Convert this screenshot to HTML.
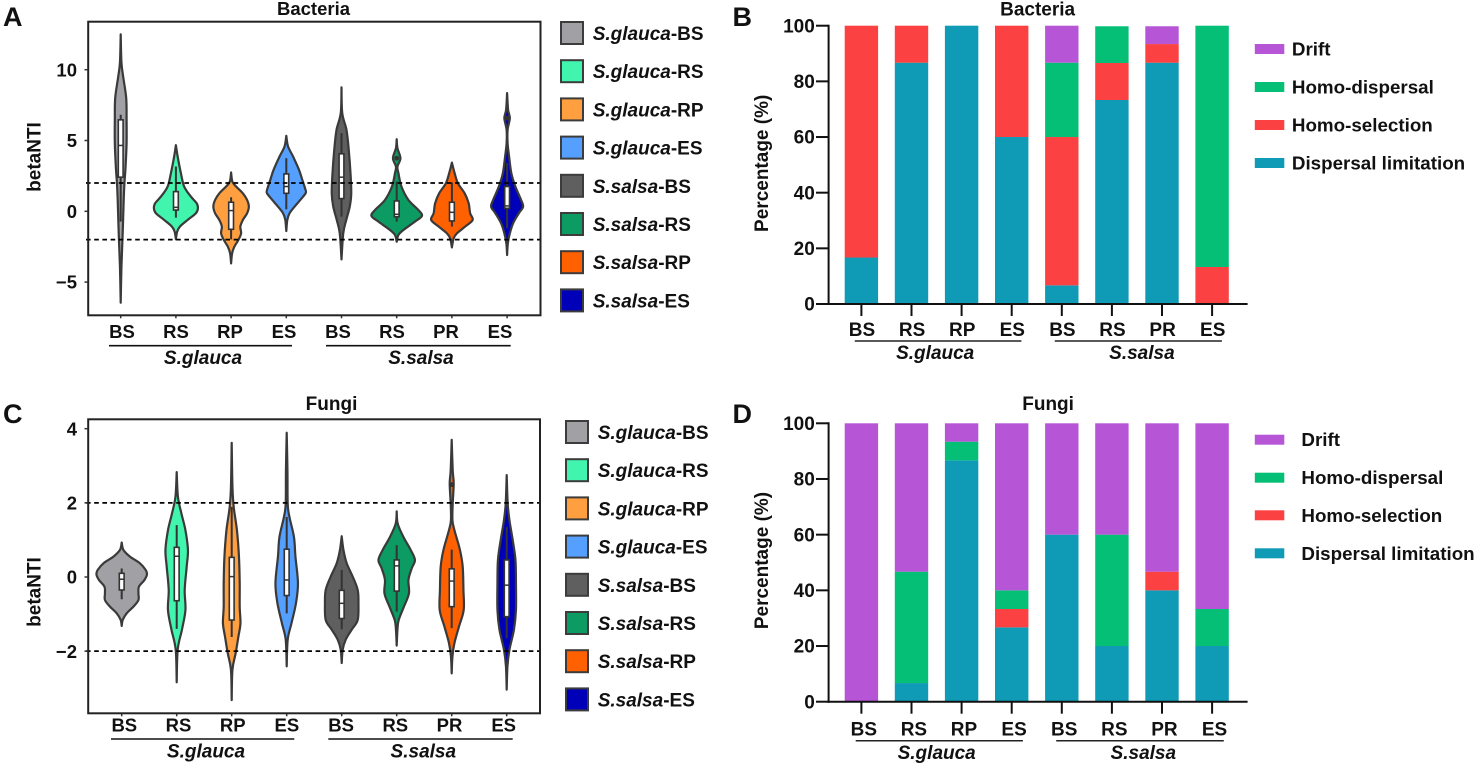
<!DOCTYPE html>
<html lang="en">
<head>
<meta charset="utf-8">
<title>betaNTI violins and community assembly stacked bars</title>
<style>
html,body{margin:0;padding:0;background:#fff;}
svg{display:block;}
text{font-family:"Liberation Sans",Arial,sans-serif;font-weight:700;fill:#111;}
.i{font-style:italic;}
.leg{font-size:19px;}
.leg2{font-size:18.8px;}
.sw{stroke:#3c3c3c;stroke-width:2;}
.let{font-size:27px;}
</style>
</head>
<body>
<svg id="figure" xmlns="http://www.w3.org/2000/svg" width="1476" height="766" viewBox="0 0 1476 766">
  <g>
    <text class="let" x="3" y="26">A</text>
    <text class="let" x="3" y="423">C</text>
    <text class="let" x="732.5" y="26">B</text>
    <text class="let" x="732.5" y="423">D</text>
  </g>

  <text x="313.5" y="15" text-anchor="middle" font-size="18.5">Bacteria</text>
  <text x="331.5" y="410" text-anchor="middle" font-size="19">Fungi</text>
  <text x="1037.6" y="15.5" text-anchor="middle" font-size="19">Bacteria</text>
  <text x="1048.1" y="410" text-anchor="middle" font-size="19">Fungi</text>

  <text transform="translate(40.5,157) rotate(-90)" text-anchor="middle" font-size="19">betaNTI</text>
  <text transform="translate(40.5,592) rotate(-90)" text-anchor="middle" font-size="19">betaNTI</text>
  <text transform="translate(768,163.3) rotate(-90)" text-anchor="middle" font-size="19">Percentage (%)</text>
  <text transform="translate(768,560.5) rotate(-90)" text-anchor="middle" font-size="19">Percentage (%)</text>

  <g>
    <line x1="109" x2="292" y1="345.7" y2="345.7" stroke="#111" stroke-width="1.6"/>
    <line x1="326" x2="510.7" y1="345.7" y2="345.7" stroke="#111" stroke-width="1.6"/>
    <text class="i" x="203" y="364" text-anchor="middle" font-size="19">S.glauca</text>
    <text class="i" x="421" y="364" text-anchor="middle" font-size="19">S.salsa</text>
    <line x1="111" x2="294.3" y1="739" y2="739" stroke="#111" stroke-width="1.6"/>
    <line x1="328.3" x2="512.7" y1="739" y2="739" stroke="#111" stroke-width="1.6"/>
    <text class="i" x="206" y="757.7" text-anchor="middle" font-size="19">S.glauca</text>
    <text class="i" x="423.3" y="757.7" text-anchor="middle" font-size="19">S.salsa</text>
    <line x1="854.8" x2="1021.4" y1="341" y2="341" stroke="#222" stroke-width="1.5"/>
    <line x1="1054.8" x2="1221.9" y1="341" y2="341" stroke="#222" stroke-width="1.5"/>
    <text class="i" x="935.2" y="359" text-anchor="middle" font-size="19">S.glauca</text>
    <text class="i" x="1141.9" y="359" text-anchor="middle" font-size="19">S.salsa</text>
    <line x1="855.7" x2="1022.9" y1="740.7" y2="740.7" stroke="#222" stroke-width="1.5"/>
    <line x1="1056.2" x2="1223.8" y1="740.7" y2="740.7" stroke="#222" stroke-width="1.5"/>
    <text class="i" x="936.7" y="759" text-anchor="middle" font-size="19">S.glauca</text>
    <text class="i" x="1143.3" y="759" text-anchor="middle" font-size="19">S.salsa</text>
  </g>

  <g>
    <g><rect class="sw" x="561" y="22" width="22" height="22" fill="#A0A0A5"/><text class="leg" x="592.7" y="40"><tspan class="i">S.glauca</tspan>-BS</text></g>
    <g><rect class="sw" x="561" y="60.2" width="22" height="22" fill="#42F5AE"/><text class="leg" x="592.7" y="78.2"><tspan class="i">S.glauca</tspan>-RS</text></g>
    <g><rect class="sw" x="561" y="98.4" width="22" height="22" fill="#FF9F40"/><text class="leg" x="592.7" y="116.4"><tspan class="i">S.glauca</tspan>-RP</text></g>
    <g><rect class="sw" x="561" y="136.6" width="22" height="22" fill="#55A0FF"/><text class="leg" x="592.7" y="154.6"><tspan class="i">S.glauca</tspan>-ES</text></g>
    <g><rect class="sw" x="561" y="174.8" width="22" height="22" fill="#5F5F5F"/><text class="leg" x="592.7" y="192.8"><tspan class="i">S.salsa</tspan>-BS</text></g>
    <g><rect class="sw" x="561" y="213" width="22" height="22" fill="#0C9B62"/><text class="leg" x="592.7" y="231"><tspan class="i">S.salsa</tspan>-RS</text></g>
    <g><rect class="sw" x="561" y="251.2" width="22" height="22" fill="#FF6000"/><text class="leg" x="592.7" y="269.2"><tspan class="i">S.salsa</tspan>-RP</text></g>
    <g><rect class="sw" x="561" y="289.4" width="22" height="22" fill="#0000B8"/><text class="leg" x="592.7" y="307.4"><tspan class="i">S.salsa</tspan>-ES</text></g>
  </g>

  <g>
    <g><rect class="sw" x="566" y="421" width="22" height="22" fill="#A0A0A5"/><text class="leg" x="597.7" y="439"><tspan class="i">S.glauca</tspan>-BS</text></g>
    <g><rect class="sw" x="566" y="459.2" width="22" height="22" fill="#42F5AE"/><text class="leg" x="597.7" y="477.2"><tspan class="i">S.glauca</tspan>-RS</text></g>
    <g><rect class="sw" x="566" y="497.4" width="22" height="22" fill="#FF9F40"/><text class="leg" x="597.7" y="515.4"><tspan class="i">S.glauca</tspan>-RP</text></g>
    <g><rect class="sw" x="566" y="535.6" width="22" height="22" fill="#55A0FF"/><text class="leg" x="597.7" y="553.6"><tspan class="i">S.glauca</tspan>-ES</text></g>
    <g><rect class="sw" x="566" y="573.8" width="22" height="22" fill="#5F5F5F"/><text class="leg" x="597.7" y="591.8"><tspan class="i">S.salsa</tspan>-BS</text></g>
    <g><rect class="sw" x="566" y="612" width="22" height="22" fill="#0C9B62"/><text class="leg" x="597.7" y="630"><tspan class="i">S.salsa</tspan>-RS</text></g>
    <g><rect class="sw" x="566" y="650.2" width="22" height="22" fill="#FF6000"/><text class="leg" x="597.7" y="668.2"><tspan class="i">S.salsa</tspan>-RP</text></g>
    <g><rect class="sw" x="566" y="688.4" width="22" height="22" fill="#0000B8"/><text class="leg" x="597.7" y="706.4"><tspan class="i">S.salsa</tspan>-ES</text></g>
  </g>

  <g>
    <g><rect x="1254.8" y="44" width="29.5" height="10" fill="#B656D6"/><text class="leg2" x="1291.9" y="55.5">Drift</text></g>
    <g><rect x="1254.8" y="82" width="29.5" height="10" fill="#06BF76"/><text class="leg2" x="1291.9" y="93.5">Homo-dispersal</text></g>
    <g><rect x="1254.8" y="120" width="29.5" height="10" fill="#FB4141"/><text class="leg2" x="1291.9" y="131.5">Homo-selection</text></g>
    <g><rect x="1254.8" y="158" width="29.5" height="10" fill="#0F9AB5"/><text class="leg2" x="1291.9" y="169.5">Dispersal limitation</text></g>
  </g>

  <g>
    <g><rect x="1254.8" y="434.7" width="29.5" height="10" fill="#B656D6"/><text class="leg2" x="1301.4" y="446.2">Drift</text></g>
    <g><rect x="1254.8" y="472.7" width="29.5" height="10" fill="#06BF76"/><text class="leg2" x="1301.4" y="484.2">Homo-dispersal</text></g>
    <g><rect x="1254.8" y="510.3" width="29.5" height="10" fill="#FB4141"/><text class="leg2" x="1301.4" y="521.8">Homo-selection</text></g>
    <g><rect x="1254.8" y="548.3" width="29.5" height="10" fill="#0F9AB5"/><text class="leg2" x="1301.4" y="559.8">Dispersal limitation</text></g>
  </g>
</svg>

<script>
/* ---------- shared categories ---------- */
var violinNames = ['glauca-bs','glauca-rs','glauca-rp','glauca-es','salsa-bs','salsa-rs','salsa-rp','salsa-es'];
var violinColors = ['#A0A0A5','#42F5AE','#FF9F40','#55A0FF','#5F5F5F','#0C9B62','#FF6000','#0000B8'];
var xCategories = ['BS','RS','RP','ES','BS','RS','PR','ES'];
var thresholds = [2,-2];

/* ---------- Panel A: bacteria betaNTI ---------- */
var bacteriaTicks = [10,5,0,-5];
var bacteriaTickLabels = ['10','5','0','\u22125'];
var bacteriaValues = [
  [12.5,10.5,9.5,8,6.5,4.8,3,2,0.8,-1.5,-3.9,-6.46],
  [4.67,3.87,2.69,1.75,1.04,0.57,0.21,-0.14,-0.61,-1.08,-1.44,-1.98],
  [2.74,2.1,1.75,1.27,0.8,0.33,-0.14,-0.61,-1.08,-1.56,-2.03,-2.5,-2.97,-3.68],
  [5.33,4.58,3.87,2.92,2.22,1.51,1.27,0.8,0.33,-0.14,-0.61,-1.39],
  [8.75,6.93,5.75,4.34,2.69,1.27,0.33,-0.61,-1.56,-3.4],
  [5.09,4.46,3.75,3.16,2.69,1.75,0.8,0.09,-0.33,-0.73,-1.32,-1.67,-2.15],
  [3.44,2.69,1.98,1.27,0.57,-0.14,-0.61,-1.08,-1.56,-1.91,-2.55],
  [8.35,7.17,6.58,5.75,4.81,3.87,2.69,1.75,0.8,0.33,-0.14,-0.85,-1.56,-2.26,-3.09]
];
var bacteriaDensity = [
  [0,0.03,0.1,0.22,0.235,0.235,0.19,0.15,0.12,0.08,0.03,0],
  [0,0.07,0.2,0.33,0.6,0.83,0.88,0.8,0.47,0.16,0.05,0],
  [0,0.05,0.2,0.47,0.64,0.71,0.64,0.47,0.37,0.4,0.29,0.13,0.04,0],
  [0,0.07,0.27,0.51,0.64,0.77,0.77,0.56,0.33,0.13,0.04,0],
  [0,0.03,0.2,0.29,0.36,0.39,0.33,0.19,0.07,0],
  [0,0.03,0.15,0.03,0.07,0.19,0.47,0.87,1.01,0.73,0.27,0.07,0],
  [0,0.11,0.24,0.51,0.67,0.73,0.83,0.53,0.2,0.07,0],
  [0,0.04,0.11,0.02,0.02,0.08,0.17,0.33,0.56,0.64,0.47,0.24,0.11,0.03,0]
];
var bacteriaWhiskerHigh = [6.82,3.16,0.99,3.75,5.52,2.1,2.03,3.4];
var bacteriaQ3 = [6.46,1.39,0.64,2.64,4.06,0.73,0.64,1.75];
var bacteriaMedian = [4.65,0.28,0.05,1.75,2.41,-0.21,-0.07,0.38];
var bacteriaQ1 = [2.41,0.09,-1.27,1.27,0.9,-0.38,-0.68,0.21];
var bacteriaWhiskerLow = [-0.73,-0.45,-1.98,0.14,-0.38,-0.73,-1.08,-1.2];
var bacteriaOutliers = [null,null,null,null,null,3.75,null,6.58];

/* ---------- Panel C: fungi betaNTI ---------- */
var fungiTicks = [4,2,0,-2];
var fungiTickLabels = ['4','2','0','\u22122'];
var fungiValues = [
  [0.93,0.73,0.55,0.37,0.19,0.07,-0.08,-0.26,-0.44,-0.62,-0.8,-0.98,-1.16,-1.32],
  [2.83,2.16,1.71,1.26,0.73,0.28,-0.35,-0.89,-1.42,-1.96,-2.84],
  [3.62,2.43,1.89,1.26,0.55,-0.17,-0.8,-1.25,-1.6,-2.05,-2.5,-3.32],
  [3.89,2.88,1.98,1.62,1.08,0.55,-0.17,-0.71,-1.25,-1.69,-2.41],
  [1.1,0.73,0.37,0.01,-0.35,-0.71,-1.16,-1.42,-1.69,-1.96,-2.32],
  [1.77,1.44,1.08,0.73,0.46,0.23,-0.08,-0.44,-0.8,-1.16,-1.42,-1.85],
  [3.7,2.88,2.52,1.98,1.53,1.26,0.73,0.28,-0.35,-0.89,-1.34,-1.78,-2.14,-2.6],
  [2.75,1.98,1.53,1,0.46,-0.17,-0.89,-1.42,-1.96,-2.41,-3.04]
];
var fungiDensity = [
  [0,0.07,0.33,0.73,0.96,1.01,0.91,0.69,0.67,0.67,0.47,0.2,0.04,0],
  [0,0.05,0.19,0.35,0.45,0.4,0.32,0.35,0.21,0.04,0],
  [0,0.03,0.08,0.21,0.29,0.32,0.32,0.35,0.27,0.16,0.03,0],
  [0,0.03,0.04,0.11,0.29,0.35,0.45,0.37,0.19,0.04,0],
  [0,0.07,0.2,0.44,0.64,0.67,0.64,0.4,0.16,0.04,0],
  [0,0.04,0.27,0.56,0.73,0.6,0.47,0.49,0.29,0.08,0.03,0],
  [0,0.04,0.08,0.04,0.03,0.11,0.33,0.44,0.47,0.48,0.29,0.11,0.03,0],
  [0,0.04,0.11,0.24,0.35,0.37,0.37,0.29,0.11,0.03,0]
];
var fungiWhiskerHigh = [0.23,1.4,1.89,1.62,0.19,0.86,0.74,1.35];
var fungiQ3 = [0.1,0.8,0.53,0.75,-0.36,0.46,0.22,0.46];
var fungiMedian = [-0.06,0.56,0.01,-0.08,-0.71,0.3,-0.11,-0.22];
var fungiQ1 = [-0.35,-0.64,-1.16,-0.5,-1.12,-0.38,-0.8,-1.07];
var fungiWhiskerLow = [-0.6,-1.4,-1.62,-0.98,-1.41,-0.93,-1.38,-1.65];
var fungiOutliers = [null,null,null,null,null,null,2.49,null];

/* ---------- Panels B and D: stacked percentages ---------- */
var percentTicks = [0,20,40,60,80,100];
var seriesNames = ['dispersal-limitation','homo-selection','homo-dispersal','drift'];
var seriesColors = ['#0F9AB5','#FB4141','#06BF76','#B656D6'];
var bacteriaDispersal = [16.7,86.7,100,60,6.7,73.3,86.7,0];
var bacteriaSelection = [83.3,13.3,0,40,53.3,13.3,6.7,13.3];
var bacteriaHomoDispersal = [0,0,0,0,26.7,13.2,0,86.7];
var bacteriaDrift = [0,0,0,0,13.3,0,6.4,0];
var fungiDispersal = [0,6.7,86.7,26.7,60,20,40,20];
var fungiSelection = [0,0,0,6.6,0,0,6.7,0];
var fungiHomoDispersal = [0,40,6.7,6.7,0,40,0,13.3];
var fungiDrift = [100,53.3,6.6,60,40,40,53.3,66.7];

/* ---------- helpers ---------- */
var NS = 'http://www.w3.org/2000/svg';
var root = document.getElementById('figure');
function mk(tag, attrs, parent){
  var el = document.createElementNS(NS, tag);
  for (var k in attrs) el.setAttribute(k, attrs[k]);
  (parent || root).appendChild(el);
  return el;
}
function linear(d0, d1, r0, r1){
  return function(v){ return r0 + (v - d0) * (r1 - r0) / (d1 - d0); };
}
function smoothPath(pts){
  var d = 'M' + pts[0][0].toFixed(2) + ' ' + pts[0][1].toFixed(2);
  for (var i = 0; i < pts.length - 1; i++){
    var p0 = pts[i-1] || pts[i], p1 = pts[i], p2 = pts[i+1], p3 = pts[i+2] || p2;
    var c1x = p1[0] + (p2[0]-p0[0])/6, c1y = p1[1] + (p2[1]-p0[1])/6;
    var c2x = p2[0] - (p3[0]-p1[0])/6, c2y = p2[1] - (p3[1]-p1[1])/6;
    d += 'C' + c1x.toFixed(2) + ' ' + c1y.toFixed(2) + ' ' + c2x.toFixed(2) + ' ' + c2y.toFixed(2) + ' ' + p2[0].toFixed(2) + ' ' + p2[1].toFixed(2);
  }
  return d;
}

/* ---------- violin panel ---------- */
function drawViolinPanel(cfg){
  var y = linear(cfg.d0, cfg.d1, cfg.r0, cfg.r1);
  var x = linear(0, 1, cfg.x0, cfg.x0 + cfg.step);
  var labelX = linear(0, 1, cfg.labelX0, cfg.labelX0 + cfg.labelStep);
  var halfWidth = linear(0, 1, 0, 25);
  var panel = mk('g', {});
  
  

  cfg.values.forEach(function(vals, i){
    var cx = x(i), dens = cfg.density[i];
    var grp = mk('g', {}, panel);
    
    
    var right = vals.map(function(v, j){ return [cx + halfWidth(dens[j]), y(v)]; });
    var left = vals.map(function(v, j){ return [cx - halfWidth(dens[j]), y(v)]; }).reverse();
    var body = mk('path', {d: smoothPath(right) + smoothPath(left).replace(/^M[^C]*/, '') + 'Z',
      fill: violinColors[i], stroke: '#3a3a3a', 'stroke-width': 2.2, 'stroke-linejoin': 'round'}, grp);
    
    
    var whisker = mk('line', {x1: cx, x2: cx, y1: y(cfg.whiskerHigh[i]), y2: y(cfg.whiskerLow[i]),
      stroke: '#333', 'stroke-width': 2}, grp);
    
    
    var box = mk('rect', {x: cx - 2.4, width: 4.8, y: y(cfg.q3[i]), height: y(cfg.q1[i]) - y(cfg.q3[i]),
      fill: '#fff', stroke: '#333', 'stroke-width': 1.6}, grp);
    
    
    var med = mk('line', {x1: cx - 2.4, x2: cx + 2.4, y1: y(cfg.median[i]), y2: y(cfg.median[i]),
      stroke: '#333', 'stroke-width': 1.5}, grp);
    
    
    if (cfg.outliers[i] !== null){
      var dot = mk('circle', {cx: cx, cy: y(cfg.outliers[i]), r: 2.4, fill: '#333'}, grp);
      
      
    }
    var tick = mk('line', {x1: cx, x2: cx, y1: cfg.bottom, y2: cfg.bottom + 3, stroke: '#333', 'stroke-width': 1.5}, panel);
    
    
    var lab = mk('text', {x: labelX(i), y: cfg.labelY, 'text-anchor': 'middle', 'font-size': 18.5}, panel);
    
    
    lab.textContent = xCategories[i];
  });

  thresholds.forEach(function(t){
    var ln = mk('line', {x1: 86, x2: cfg.right, y1: y(t), y2: y(t), stroke: '#000', 'stroke-width': 1.8, 'stroke-dasharray': '4.6 3.6'}, panel);
    
    
  });

  var frame = mk('rect', {x: 88.2, y: cfg.top, width: cfg.right - 88.2, height: cfg.bottom - cfg.top, fill: 'none', stroke: '#222', 'stroke-width': 2}, panel);
  
  

  cfg.ticks.forEach(function(t, i){
    var tk = mk('line', {x1: 84.5, x2: 88, y1: y(t), y2: y(t), stroke: '#333', 'stroke-width': 1.5}, panel);
    
    
    var tl = mk('text', {x: 77, y: y(t) + 6.6, 'text-anchor': 'end', 'font-size': 18.5}, panel);
    
    
    tl.textContent = cfg.tickLabels[i];
  });
}

/* ---------- stacked bar panel ---------- */
function drawStackPanel(cfg){
  var y = linear(0, 100, cfg.zero, cfg.hundred);
  var x = linear(0, 1, 861.4, 911.5);
  var labelX = linear(0, 1, cfg.labelX0, cfg.labelX0 + 50.1);
  var panel = mk('g', {});
  
  

  xCategories.forEach(function(cat, i){
    var base = 0;
    cfg.series.forEach(function(values, s){
      var v = values[i];
      if (v > 0){
        var bar = mk('rect', {x: x(i) - 16.7, width: 33.4, y: y(base + v), height: y(base) - y(base + v), fill: seriesColors[s]}, panel);
        
        
      }
      base += v;
    });
    var tick = mk('line', {x1: x(i), x2: x(i), y1: cfg.zero, y2: cfg.zero + 12, stroke: '#111', 'stroke-width': 2}, panel);
    
    
    var lab = mk('text', {x: labelX(i), y: cfg.labelY, 'text-anchor': 'middle', 'font-size': 19}, panel);
    
    
    lab.textContent = cat;
  });

  var yAxis = mk('line', {x1: 828.6, x2: 828.6, y1: y(100) - 1, y2: y(0) + 1, stroke: '#111', 'stroke-width': 2}, panel);
  
  
  var xAxis = mk('line', {x1: 827.6, x2: 1247.6, y1: y(0), y2: y(0), stroke: '#111', 'stroke-width': 2}, panel);
  
  

  percentTicks.forEach(function(t){
    var tk = mk('line', {x1: 816, x2: 828.6, y1: y(t), y2: y(t), stroke: '#111', 'stroke-width': 2}, panel);
    
    
    var tl = mk('text', {x: 814.8, y: y(t) + 6.6, 'text-anchor': 'end', 'font-size': 19}, panel);
    
    
    tl.textContent = String(t);
  });
}

/* ---------- render ---------- */
drawViolinPanel({name:'bacteria', d0:0, d1:10, r0:211.3, r1:69.7, x0:120.7, step:55.2, labelX0:122, labelStep:54,
  labelY:338, top:21.7, bottom:315.3, right:540.5, values:bacteriaValues, density:bacteriaDensity,
  whiskerHigh:bacteriaWhiskerHigh, whiskerLow:bacteriaWhiskerLow, q3:bacteriaQ3, q1:bacteriaQ1, median:bacteriaMedian,
  outliers:bacteriaOutliers, ticks:bacteriaTicks, tickLabels:bacteriaTickLabels});
drawViolinPanel({name:'fungi', d0:0, d1:4, r0:577, r1:428.7, x0:121.7, step:55, labelX0:124.3, labelStep:54.2,
  labelY:731.7, top:419.3, bottom:713.3, right:540, values:fungiValues, density:fungiDensity,
  whiskerHigh:fungiWhiskerHigh, whiskerLow:fungiWhiskerLow, q3:fungiQ3, q1:fungiQ1, median:fungiMedian,
  outliers:fungiOutliers, ticks:fungiTicks, tickLabels:fungiTickLabels});
drawStackPanel({name:'bacteria', zero:304, hundred:25.7, labelX0:862, labelY:336,
  series:[bacteriaDispersal, bacteriaSelection, bacteriaHomoDispersal, bacteriaDrift]});
drawStackPanel({name:'fungi', zero:701.7, hundred:423.3, labelX0:863.8, labelY:735.7,
  series:[fungiDispersal, fungiSelection, fungiHomoDispersal, fungiDrift]});
</script>
</body>
</html>
